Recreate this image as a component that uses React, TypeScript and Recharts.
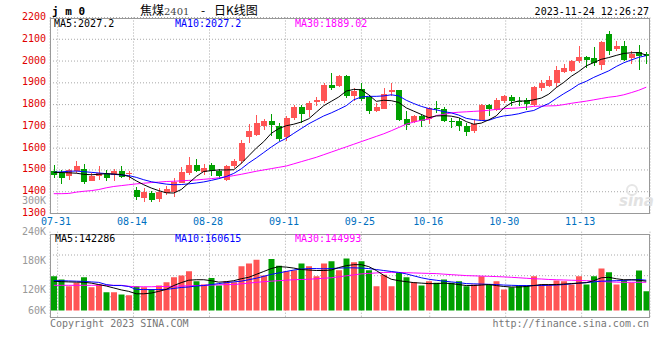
import React from "react";
import { ComposedChart, Bar, Line, XAxis, YAxis, CartesianGrid, Cell } from "recharts";

const dates = [
  "07-28","07-31","08-01","08-02","08-03","08-04","08-07","08-08","08-09","08-10",
  "08-11","08-14","08-15","08-16","08-17","08-18","08-21","08-22","08-23","08-24",
  "08-25","08-28","08-29","08-30","08-31","09-01","09-04","09-05","09-06","09-07",
  "09-08","09-11","09-12","09-13","09-14","09-15","09-18","09-19","09-20","09-21",
  "09-22","09-25","09-26","09-27","09-28","10-09","10-10","10-11","10-12","10-13",
  "10-16","10-17","10-18","10-19","10-20","10-23","10-24","10-25","10-26","10-27",
  "10-30","10-31","11-01","11-02","11-03","11-06","11-07","11-08","11-09","11-10",
  "11-13","11-14","11-15","11-16","11-17","11-20","11-21","11-22","11-23","11-24",
];

const openP = [
  1495,1486,1470,1493,1504,1451,1474,1481,1475,1497,
  1482,1409,1371,1394,1368,1394,1397,1440,1486,1524,
  1491,1521,1497,1455,1516,1539,1650,1662,1700,1723,
  1703,1650,1739,1789,1774,1814,1818,1892,1884,1930,
  1841,1872,1835,1769,1781,1857,1866,1736,1719,1749,
  1736,1785,1781,1724,1726,1703,1677,1731,1800,1777,
  1815,1835,1818,1823,1797,1874,1887,1899,1952,1956,
  2000,2018,2012,1981,2122,2057,2071,2012,2043,2032,
];
const highP = [
  1524,1501,1504,1543,1529,1486,1520,1501,1506,1516,
  1493,1422,1417,1405,1415,1426,1463,1512,1558,1552,
  1527,1530,1506,1524,1549,1639,1713,1754,1734,1759,
  1716,1750,1796,1800,1815,1834,1897,1943,1935,1938,
  1877,1900,1846,1808,1877,1900,1869,1769,1754,1757,
  1789,1815,1788,1739,1739,1716,1731,1803,1803,1831,
  1846,1846,1835,1831,1884,1912,1930,1976,1987,2007,
  2071,2022,2063,2091,2137,2091,2091,2046,2074,2041,
];
const lowP = [
  1463,1435,1455,1486,1437,1447,1455,1451,1451,1462,
  1455,1363,1351,1351,1354,1387,1378,1438,1478,1491,
  1475,1470,1465,1451,1508,1529,1624,1654,1685,1654,
  1631,1635,1731,1716,1742,1792,1808,1869,1880,1831,
  1815,1815,1759,1765,1778,1838,1723,1682,1716,1696,
  1713,1762,1719,1693,1677,1654,1670,1728,1749,1769,
  1808,1792,1792,1774,1792,1861,1881,1880,1943,1952,
  1992,1969,1976,1958,2030,2046,2002,1987,1961,1987,
];
const closeP = [
  1478,1463,1498,1516,1443,1470,1486,1463,1497,1466,
  1486,1378,1401,1363,1401,1414,1443,1491,1524,1497,
  1509,1497,1470,1520,1539,1624,1677,1716,1726,1705,
  1642,1740,1788,1757,1808,1823,1892,1874,1930,1841,
  1864,1826,1769,1788,1849,1866,1731,1708,1746,1726,
  1785,1781,1726,1722,1700,1673,1711,1800,1782,1823,
  1841,1815,1811,1805,1880,1897,1915,1961,1966,2002,
  2018,2004,1989,2087,2046,2071,2005,2034,2022,2022,
];

const ma5 = [
  1489,1488,1487,1485,1480,1478,1480,1483,1481,1479,
  1470,1450,1432,1417,1405,1395,1394,1410,1440,1470,
  1493,1497,1500,1500,1501,1530,1565,1600,1630,1668,
  1690,1703,1710,1720,1735,1765,1795,1815,1835,1862,
  1870,1868,1845,1815,1820,1818,1810,1785,1770,1755,
  1740,1748,1749,1747,1740,1722,1710,1715,1730,1748,
  1785,1808,1817,1816,1822,1830,1848,1878,1902,1930,
  1952,1978,1993,2008,2016,2026,2035,2038,2039,2027,
];
const ma10 = [
  1489,1491,1494,1495,1492,1489,1486,1483,1480,1477,
  1474,1466,1455,1446,1440,1435,1432,1433,1436,1440,
  1445,1452,1460,1470,1484,1505,1532,1555,1580,1605,
  1628,1645,1668,1690,1712,1730,1748,1762,1778,1795,
  1822,1835,1838,1838,1840,1845,1840,1820,1805,1792,
  1782,1776,1768,1762,1752,1737,1731,1727,1728,1740,
  1748,1752,1758,1767,1773,1790,1805,1828,1850,1870,
  1893,1907,1925,1940,1955,1975,1992,2005,2017,2025,
];
const ma30 = [
  1391,1391,1392,1398,1402,1405,1410,1418,1424,1428,
  1432,1436,1439,1442,1444,1447,1448,1450,1452,1454,
  1457,1460,1464,1468,1474,1480,1487,1494,1500,1506,
  1512,1518,1528,1538,1548,1558,1570,1582,1594,1606,
  1618,1630,1642,1654,1666,1680,1695,1710,1720,1728,
  1733,1750,1755,1762,1765,1767,1769,1771,1774,1778,
  1781,1783,1785,1788,1792,1793,1794,1795,1800,1806,
  1811,1816,1822,1828,1834,1838,1845,1855,1866,1880,
];

const volume = [
  148100,141300,127500,134500,146000,125400,131000,115200,115200,110400,
  109000,127500,125400,122000,129000,135700,146000,149500,158300,137800,
  131000,144800,129000,137800,135700,168600,174200,182400,149500,183800,
  170000,158300,160400,174200,168600,148100,174200,179000,160400,184500,
  176900,179000,160400,127500,151500,127500,155000,146000,135700,129000,
  137800,134500,141300,134500,137800,127500,131000,148100,131000,137800,
  120700,125400,129000,129000,148100,131000,131000,139200,137800,131000,
  148100,131000,148100,163900,156300,131000,139200,134500,159800,117200,
];
const volMa5 = [
  137800,137000,136500,136000,135700,134000,131000,128000,124000,120000,
  117000,112000,112000,113500,117000,121000,129000,135000,140000,141000,
  141000,139000,136000,137000,139000,143000,146000,152000,158000,164000,
  168000,167000,165000,162000,161000,160000,160000,161000,166000,170000,
  172000,172000,168000,160000,150000,142000,139000,137000,135000,134000,
  133000,133000,134000,133000,131000,129000,129000,130000,131000,129000,
  127000,126000,126000,127000,129000,131000,131000,131000,132000,133000,
  134000,135000,139000,145000,146000,143000,141000,141000,140000,138000,
];
const volMa10 = [
  139200,139000,138500,138000,137500,136500,135500,131000,129000,129000,
  127000,121000,120700,120700,120700,121000,123000,125000,126000,128000,
  129000,131000,133000,135000,136500,138000,141000,144000,148000,152000,
  155000,158000,161000,163000,164000,164000,163500,164000,165000,165500,
  165500,165000,164000,162000,160000,158000,156000,153000,149000,145000,
  142000,140000,138000,136500,135000,133000,132500,132000,131500,131000,
  130000,129500,129000,129000,129000,129000,129500,130000,131000,132500,
  134000,135000,136500,138000,138500,139000,139500,140500,141300,140000,
];
const volMa30 = [
  129500,129500,129500,129500,129500,129500,129500,129500,129500,129500,
  127500,126500,126500,126500,127000,127000,127500,128000,128500,129000,
  129500,130000,130500,131000,131000,132500,134000,135500,137000,138000,
  139000,140000,141000,141500,142000,143000,144000,145000,147000,149000,
  151000,153000,154000,155000,156000,156300,156000,155500,155000,154500,
  154000,153600,152500,151500,150500,149500,149000,148500,148000,147500,
  146800,146000,145000,144000,143000,142500,141500,141000,140500,140000,
  139500,139000,138500,137500,136500,136000,135700,135700,135700,135700,
];

const priceTicks = [1300, 1400, 1500, 1600, 1700, 1800, 1900, 2000, 2100, 2200];
const priceDomain = [1300, 2200];
const dateTickIdx = [1, 11, 21, 31, 41, 50, 60, 70];
const volTicks = [77500, 120000, 180000, 240000];
const volTickLabels = ["60K", "120K", "180K", "240K"];
const volFloor = 77500;
const volDomain = [62700, 240000];

const RED = "#FF5555";
const GREEN = "#00A000";
const MONO = "'DejaVu Sans Mono', monospace";
const GRID = "#A8A8A8";

const data = dates.map((d, i) => ({
  i,
  date: d,
  open: openP[i],
  high: highP[i],
  low: lowP[i],
  close: closeP[i],
  ma5: ma5[i],
  ma10: ma10[i],
  ma30: ma30[i],
  vol: volume[i],
  vma5: volMa5[i],
  vma10: volMa10[i],
  vma30: volMa30[i],
}));

const Candle = (props: any) => {
  const { x, y, width, height, payload } = props;
  if (x == null || y == null) return null;
  const top = Math.min(y, y + height);
  const h = Math.abs(height);
  const { open, close, high, low } = payload;
  const color = close >= open ? RED : GREEN;
  const ppu = h / (high - low);
  const yOf = (v: number) => top + (high - v) * ppu;
  const bTop = yOf(Math.max(open, close));
  const bBot = yOf(Math.min(open, close));
  const cx = Math.floor(x + width / 2) + 0.5;
  return (
    <g shapeRendering="crispEdges">
      <line x1={cx} x2={cx} y1={top} y2={top + h} stroke={color} strokeWidth={1} />
      <rect x={x} y={bTop} width={width} height={Math.max(1, bBot - bTop)} fill={color} />
    </g>
  );
};

const PriceTick = (p: any) => (
  <text x={46} y={p.y + 2.5} textAnchor="end" fontSize={10} fontFamily={MONO} fill="#E00000">
    {p.payload.value}
  </text>
);

const DateTick = (p: any) => (
  <text x={p.x - 1.5} y={225} textAnchor="middle" fontSize={10} fontFamily={MONO} fill="#0070C0">
    {dates[p.payload.value]}
  </text>
);

const VolTick = (p: any) => (
  <text x={46} y={p.y + 3.5} textAnchor="end" fontSize={10} fontFamily={MONO} fill="#999999">
    {volTickLabels[volTicks.indexOf(p.payload.value)]}
  </text>
);

export default function App() {
  return (
    <div style={{ position: "absolute", left: 0, top: 0, width: 660, height: 360, background: "#fff", overflow: "hidden" }}>
      <div style={{ position: "absolute", left: 0, top: 0 }}>
        <ComposedChart width={660} height={240} data={data} margin={{ top: 17.5, right: 10, bottom: 0, left: 0 }}>
          <CartesianGrid xAxisId="g" yAxisId="p" stroke={GRID} strokeDasharray="1 2" />
          <XAxis xAxisId="c" dataKey="date" type="category" hide />
          <XAxis
            xAxisId="g"
            dataKey="i"
            type="number"
            domain={[0, 79]}
            ticks={dateTickIdx}
            interval={0}
            height={26.5}
            tick={<DateTick />}
            tickLine={false}
            axisLine={false}
            allowDataOverflow
          />
          <YAxis
            yAxisId="p"
            domain={priceDomain}
            ticks={priceTicks}
            interval={0}
            width={50}
            tick={<PriceTick />}
            tickLine={false}
            axisLine={false}
            allowDataOverflow
          />
          <Bar
            xAxisId="c"
            yAxisId="p"
            dataKey={(d: any) => [d.low, d.high]}
            barSize={6}
            shape={<Candle />}
            isAnimationActive={false}
          />
          <Line xAxisId="c" yAxisId="p" dataKey="ma30" stroke="#FF00FF" strokeWidth={1} dot={false} isAnimationActive={false} />
          <Line xAxisId="c" yAxisId="p" dataKey="ma10" stroke="#0000FF" strokeWidth={1} dot={false} isAnimationActive={false} />
          <Line xAxisId="c" yAxisId="p" dataKey="ma5" stroke="#000000" strokeWidth={1} dot={false} isAnimationActive={false} />
        </ComposedChart>
      </div>
      <div style={{ position: "absolute", left: 0, top: 220 }}>
        <ComposedChart width={660} height={110} data={data} margin={{ top: 11.7, right: 10, bottom: 12.3, left: 0 }}>
          <CartesianGrid xAxisId="g" yAxisId="v" stroke={GRID} strokeDasharray="1 2" horizontalPoints={[35, 55.7, 76.8]} />
          <XAxis xAxisId="c" dataKey="date" type="category" hide />
          <XAxis xAxisId="g" dataKey="i" type="number" domain={[0, 79]} ticks={dateTickIdx} interval={0} hide allowDataOverflow />
          <YAxis
            yAxisId="v"
            domain={volDomain}
            ticks={volTicks}
            interval={0}
            width={50}
            tick={<VolTick />}
            tickLine={false}
            axisLine={false}
            allowDataOverflow
          />
          <Bar xAxisId="c" yAxisId="v" dataKey={(d: any) => [volFloor, d.vol]} barSize={6} isAnimationActive={false}>
            {data.map((d, i) => (
              <Cell key={i} fill={d.close >= d.open ? RED : GREEN} />
            ))}
          </Bar>
          <Line xAxisId="c" yAxisId="v" dataKey="vma30" stroke="#FF00FF" strokeWidth={1} dot={false} isAnimationActive={false} />
          <Line xAxisId="c" yAxisId="v" dataKey="vma10" stroke="#0000FF" strokeWidth={1} dot={false} isAnimationActive={false} />
          <Line xAxisId="c" yAxisId="v" dataKey="vma5" stroke="#000000" strokeWidth={1} dot={false} isAnimationActive={false} />
        </ComposedChart>
      </div>
      <svg width={660} height={360} style={{ position: "absolute", left: 0, top: 0, pointerEvents: "none" }}>
        <rect x={50.5} y={18.5} width={599} height={195} fill="none" stroke="#999" strokeWidth={1} />
        <rect x={50.5} y={234.5} width={599} height={83} fill="none" stroke="#999" strokeWidth={1} />
        <text x={52} y={15} fontSize={11} fontWeight="bold" fontFamily={MONO} fill="#000">j m 0</text>
        <text x={140} y={15} fontSize={12} fontFamily="'Noto Sans CJK SC'" fill="#000">焦煤</text>
        <text x={164} y={15} fontSize={10} fontFamily="'DejaVu Serif', serif" fill="#444">2401</text>
        <text x={201} y={15} fontSize={12} fontFamily="'Noto Sans CJK SC'" fill="#000">-</text>
        <text x={214} y={15} fontSize={12} fontFamily="'Noto Sans CJK SC'" fill="#000">日K线图</text>
        <text x={649} y={15} textAnchor="end" fontSize={10} fontFamily={MONO} fill="#000">2023-11-24 12:26:27</text>
        <text x={54} y={27} fontSize={10} fontFamily={MONO} fill="#000">MA5:2027.2</text>
        <text x={175} y={27} fontSize={10} fontFamily={MONO} fill="#0000FF">MA10:2027.2</text>
        <text x={295} y={27} fontSize={10} fontFamily={MONO} fill="#FF00FF">MA30:1889.02</text>
        <text x={46} y={204} textAnchor="end" fontSize={10} fontFamily={MONO} fill="#999">300K</text>
        <text x={55} y={242} fontSize={10} fontFamily={MONO} fill="#000">MA5:142286</text>
        <text x={175} y={242} fontSize={10} fontFamily={MONO} fill="#0000FF">MA10:160615</text>
        <text x={295} y={242} fontSize={10} fontFamily={MONO} fill="#FF00FF">MA30:144993</text>
        <text x={50} y={327} fontSize={10} fontFamily={MONO} fill="#777">Copyright 2023 SINA.COM</text>
        <text x={649} y={327} textAnchor="end" fontSize={10} fontFamily={MONO} fill="#777">http://finance.sina.com.cn</text>
        <circle cx={632} cy={190} r={5} fill="none" stroke="#E6E6E6" strokeWidth={2} />
        <text x={619} y={206} fontSize={15} fontStyle="italic" fontWeight="bold" fontFamily="'DejaVu Sans'" fill="#E2E2E2">sina</text>
      </svg>
    </div>
  );
}
